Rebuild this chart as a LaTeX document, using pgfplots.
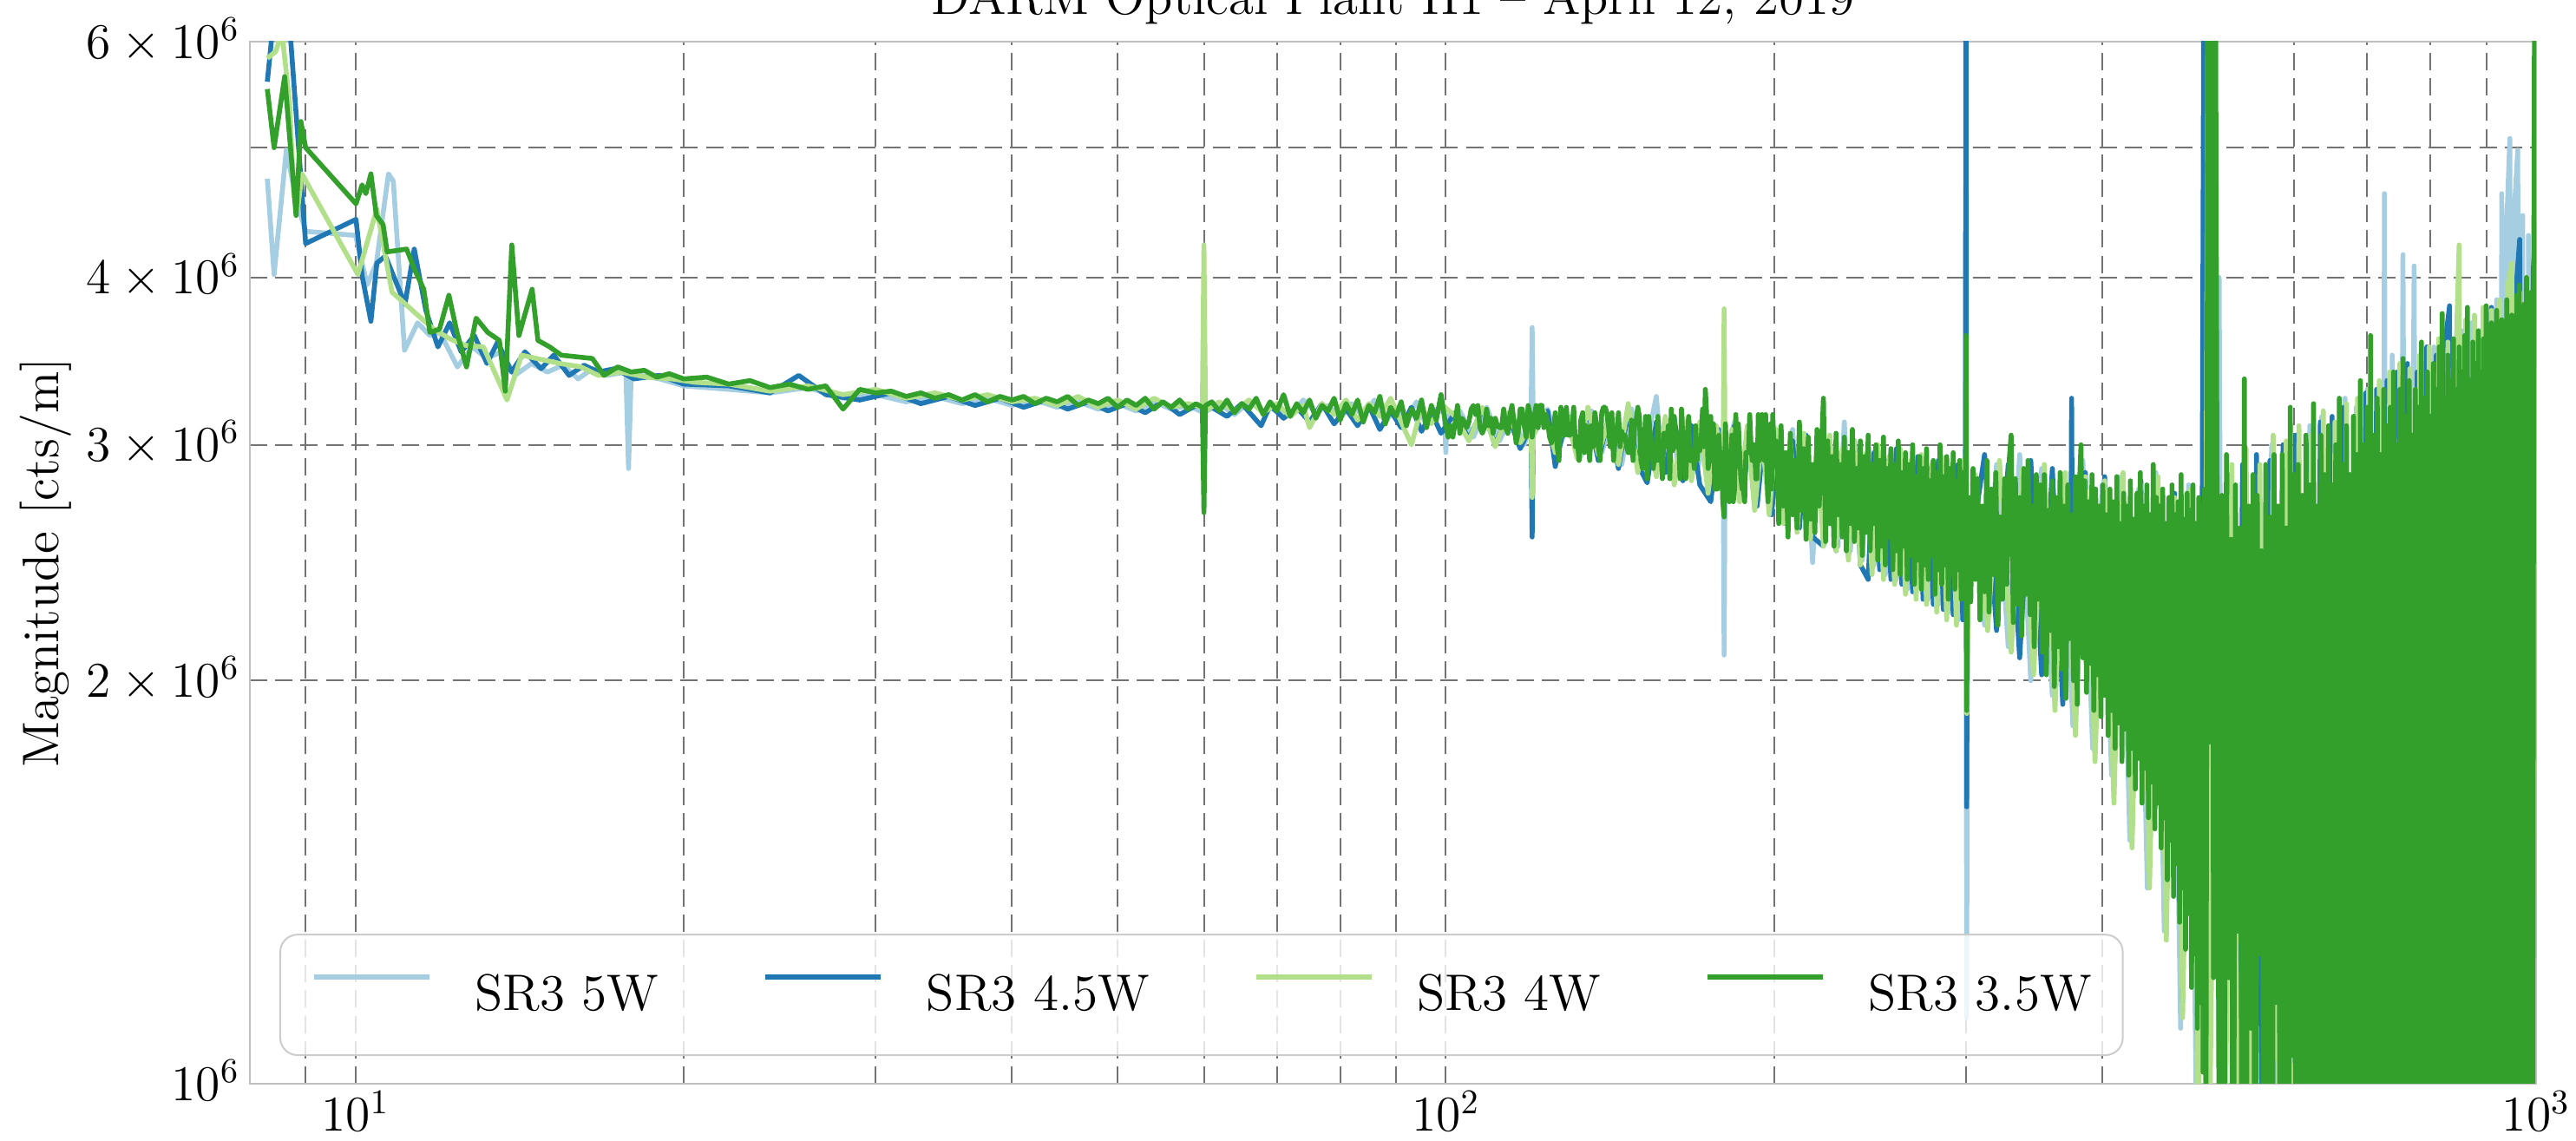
\documentclass[border=0pt]{standalone}
\usepackage{pgfplots}
\pgfplotsset{compat=1.18}
\definecolor{cfive}{HTML}{A6CEE3}
\definecolor{cfourfive}{HTML}{1F78B4}
\definecolor{cfour}{HTML}{B2DF8A}
\definecolor{cthreefive}{HTML}{33A02C}
\begin{document}
\begin{tikzpicture}[font=\fontsize{14.8}{17.8}\selectfont]
\begin{axis}[
  at={(0pt,0pt)}, anchor=south west,
  scale only axis, width=658.75pt, height=300.25pt,
  xmode=log, ymode=log,
  xmin=8, xmax=1000, ymin=1, ymax=6,
  xtick={10,100,1000}, xticklabels={$10^1$,$10^2$,$10^3$},
  minor xtick={9,20,30,40,50,60,70,80,90,200,300,400,500,600,700,800,900},
  ytick={1,2,3,4,5,6},
  yticklabels={$10^6$,$2\times10^6$,$3\times10^6$,$4\times10^6$,,$6\times10^6$},
  xmajorgrids, xminorgrids, ymajorgrids,
  major grid style={black!55, line width=0.5pt, dash pattern=on 5pt off 2.3pt},
  minor grid style={black!55, line width=0.5pt, dash pattern=on 5pt off 2.3pt},
  major tick length=0pt, minor tick length=0pt,
  axis line style={black!25, line width=0.6pt},
  xticklabel style={anchor=base, yshift=-13.75pt},
  yticklabel style={anchor=base east, yshift=-4.8pt, inner xsep=2.75pt},
  title={DARM Optical Plant H1 -- April 12, 2019},
  every axis title/.style={at={(0.5,1)}, anchor=base, yshift=7.75pt},
  ylabel={Magnitude [cts/m]},
  every axis y label/.style={at={(axis description cs:-0.0835,0.5)}, rotate=90, anchor=base},
  legend columns=4,
  legend cell align=left,
  legend image code/.code={\draw[#1] (0pt,5.2pt) -- (33.25pt,5.2pt);},
  legend style={
    at={(axis description cs:0.0129,0.0266)}, anchor=south west,
    draw=black!20, line width=0.5pt, rounded corners=5pt,
    fill=white, fill opacity=0.8, draw opacity=1, text opacity=1,
    inner xsep=9pt, inner ysep=11.4pt,
    nodes={inner sep=0pt},
    /tikz/every odd column/.append style={column sep=12.5pt},
    /tikz/every even column/.append style={column sep=30pt},
  },
  every axis plot/.append style={line width=1.4pt, line join=round, no markers},
]
% ---------------- SR3 5W ----------------
\addplot[cfive] table[row sep=\\] {
8.30 4.74\\ 8.42 4.02\\ 8.64 4.98\\ 8.82 4.58\\ 9.00 4.33\\ 10.00 4.30\\ 10.25 3.95\\ 10.45 4.10\\ 10.72 4.78\\ 10.83 4.72\\
11.09 3.53\\ 11.40 3.70\\ 11.70 3.62\\ 11.95 3.64\\ 12.40 3.43\\ 12.80 3.55\\ 13.20 3.48\\ 13.60 3.52\\ 14.00 3.38\\ 14.50 3.45\\
15.00 3.40\\ 15.50 3.44\\ 16.00 3.36\\ 16.50 3.42\\ 17.00 3.38\\ 17.70 3.40\\ 17.80 2.88\\ 17.90 3.39\\ 19.00 3.36\\ 20 3.32\\
22 3.30\\ 24 3.28\\ 26 3.31\\ 28 3.25\\ 30 3.27\\ 32 3.23\\ 34 3.26\\ 36 3.22\\ 38 3.25\\ 40 3.21\\
42 3.24\\ 44 3.20\\ 46 3.23\\ 48 3.19\\ 50 3.22\\ 52 3.18\\ 54 3.23\\ 56 3.19\\ 58 3.21\\ 60 3.17\\
62 3.22\\ 64 3.16\\ 66 3.23\\ 68 3.18\\ 70 3.20\\ 72 3.15\\ 74 3.24\\ 76 3.17\\ 78 3.21\\ 80 3.14\\
82 3.22\\ 84 3.15\\ 86 3.24\\ 88 3.12\\ 90 3.20\\ 92 3.14\\ 94 3.23\\ 96 3.10\\ 98 3.19\\ 99.7 3.17\\ 100 2.96\\ 100.3 3.15\\
103 3.18\\ 106 3.04\\ 109 3.20\\ 112 3.02\\ 115 3.16\\ 118 3.00\\ 119.7 3.12\\ 120 3.67\\ 120.3 3.05\\ 124 3.19\\
127 2.98\\ 130 3.15\\ 133 2.94\\ 136 3.18\\ 139 2.96\\ 142 3.14\\ 145 2.90\\ 148 3.19\\ 151 2.92\\ 154 3.10\\
156 3.26\\ 158 2.88\\ 161 3.12\\ 164 2.84\\ 167 3.14\\ 170 2.86\\ 173 3.08\\ 176 2.80\\ 179.6 3.06\\ 180 2.09\\
180.4 2.95\\ 184 3.12\\ 187 2.74\\ 190 3.06\\ 193 2.70\\ 196 3.10\\ 199 2.68\\ 202 3.05\\ 205 2.66\\ 208 3.08\\
211 2.60\\ 214 3.02\\ 217 2.45\\ 220 3.05\\ 223 2.58\\ 226 2.98\\ 229 2.52\\ 232 3.12\\ 235 2.50\\ 238 2.96\\
241 2.46\\ 244 3.00\\ 247 2.44\\ 250 2.92\\ 253 2.40\\ 256 2.98\\ 259 2.38\\ 262 2.90\\ 265 2.34\\ 268 2.94\\
271 2.36\\ 274 2.88\\ 277 2.30\\ 280 2.92\\ 283 2.28\\ 286 2.86\\ 289 2.25\\ 292 2.90\\ 295 2.22\\ 298 2.85\\
299.6 2.6\\ 300 5.55\\ 300.4 1.12\\ 301 2.4\\
304 2.70\\ 312 2.20\\ 320 2.90\\ 328 2.12\\ 336 2.95\\ 344 2.00\\ 352 2.88\\ 360 1.95\\ 368 2.85\\ 376 1.85\\
384 2.92\\ 392 1.78\\ 400 2.80\\ 408 1.70\\ 416 2.84\\ 424 1.52\\ 432 2.78\\ 440 1.40\\ 448 2.86\\ 456 1.30\\
464 2.75\\ 472 1.10\\ 480 2.80\\ 488 0.95\\ 496 2.70\\ 504 3.0\\ 512 4.00\\ 516 0.9\\ 524 2.75\\ 532 0.8\\
540 2.95\\ 548 0.7\\ 556 2.85\\ 564 0.8\\ 572 3.00\\ 580 0.7\\ 588 2.95\\ 596 0.6\\ 604 3.05\\ 612 0.7\\
620 3.10\\ 628 0.6\\ 636 3.15\\ 644 0.5\\ 652 3.10\\ 660 0.6\\ 668 3.25\\ 676 0.5\\ 684 3.20\\ 692 0.6\\
700 3.30\\ 708 0.5\\ 716 3.25\\ 722 0.5\\ 726 4.62\\ 730 0.6\\ 738 3.50\\ 746 0.5\\ 755 4.16\\ 762 0.6\\
773 4.08\\ 780 0.5\\ 790 3.45\\ 798 0.6\\ 806 3.55\\ 814 0.5\\ 823 3.50\\ 830 0.6\\ 840 3.60\\ 848 0.5\\
856 3.65\\ 864 0.5\\ 872 3.70\\ 880 0.6\\ 888 3.65\\ 896 0.5\\ 904 3.75\\ 912 0.6\\ 920 3.85\\ 926 0.5\\
930 4.62\\ 936 0.7\\ 940 4.40\\ 946 5.08\\ 950 0.8\\ 956 4.55\\ 962 4.98\\ 966 0.7\\ 972 4.45\\ 978 0.6\\
984 4.30\\ 990 0.7\\ 996 4.20\\ 1000 4.8\\
};
\addlegendentry{SR3 5W}
% ---------------- SR3 4.5W ----------------
\addplot[cfourfive] table[row sep=\\] {
8.30 5.60\\ 8.50 6.80\\ 8.66 6.50\\ 9.00 4.24\\ 10.01 4.42\\ 10.14 4.01\\ 10.33 3.71\\ 10.46 4.10\\ 10.65 4.15\\ 10.96 3.92\\
11.10 3.82\\ 11.32 4.20\\ 11.60 3.78\\ 11.90 3.55\\ 12.20 3.70\\ 12.50 3.52\\ 12.85 3.62\\ 13.20 3.45\\ 13.50 3.58\\ 13.90 3.40\\
14.30 3.52\\ 14.80 3.42\\ 15.20 3.50\\ 15.70 3.38\\ 16.20 3.44\\ 16.70 3.40\\ 17.30 3.42\\ 18.0 3.36\\ 19.0 3.38\\ 20 3.33\\
22 3.32\\ 24 3.28\\ 25.5 3.38\\ 27 3.27\\ 29 3.24\\ 31 3.28\\ 33 3.22\\ 35 3.26\\ 37 3.21\\ 39 3.25\\
41 3.20\\ 43 3.24\\ 45 3.19\\ 47 3.23\\ 49 3.18\\ 51 3.22\\ 53 3.17\\ 55 3.23\\ 57 3.16\\ 59 3.21\\
61 3.20\\ 63 3.15\\ 65 3.22\\ 67.7 3.10\\ 69 3.21\\ 71 3.14\\ 73 3.20\\ 75 3.12\\ 77 3.22\\ 79 3.11\\
81 3.19\\ 83 3.10\\ 85 3.21\\ 87 3.08\\ 89 3.18\\ 91 3.09\\ 93 3.20\\ 95 3.07\\ 97 3.17\\ 99 3.06\\
102 3.17\\ 105 3.03\\ 108 3.19\\ 111 3.00\\ 114 3.16\\ 117 2.98\\ 119.7 3.10\\ 120 2.56\\ 120.3 3.08\\ 124 3.18\\
126 2.89\\ 129 3.15\\ 132 2.95\\ 135 3.19\\ 138 2.92\\ 141 3.14\\ 144 2.88\\ 147 3.18\\ 150 2.90\\ 153 2.81\\
156 3.12\\ 159 2.86\\ 162 3.14\\ 165 2.82\\ 168 3.10\\ 171 2.80\\ 175 2.72\\ 178 3.08\\ 181 2.78\\ 184 3.10\\
187 2.74\\ 190 3.04\\ 193 2.70\\ 196 3.08\\ 199 2.66\\ 202 3.06\\ 205 2.62\\ 208 3.02\\ 211 2.60\\ 214 3.05\\
217 2.56\\ 222 2.52\\ 225 3.00\\ 228 2.50\\ 231 2.96\\ 234 2.48\\ 237 3.02\\ 240 2.44\\ 244 2.38\\ 247 2.96\\
250 2.42\\ 253 2.92\\ 256 2.38\\ 259 2.98\\ 262 2.36\\ 265 2.90\\ 268 2.33\\ 271 2.94\\ 274 2.30\\ 277 2.88\\
280 2.28\\ 283 2.92\\ 286 2.26\\ 289 2.86\\ 292 2.24\\ 295 2.90\\ 298 2.22\\ 299.6 2.7\\ 300 8.0\\ 300.4 1.61\\ 301 2.5\\
304 2.55\\ 312 2.95\\ 320 2.18\\ 328 2.90\\ 336 2.08\\ 344 2.92\\ 352 2.02\\ 360 2.88\\ 368 1.92\\ 374.6 2.7\\
375 3.25\\ 375.4 2.6\\ 378 1.90\\ 386 2.86\\ 394 1.80\\ 402 2.84\\ 410 1.68\\ 418 2.80\\ 426 1.55\\ 434 2.82\\
442 1.45\\ 450 2.78\\ 458 1.35\\ 466 2.76\\ 474 1.15\\ 482 2.74\\ 490 0.95\\ 494 2.6\\ 496 8.0\\ 498 1.0\\
506 2.8\\ 514 0.8\\ 522 2.85\\ 530 0.7\\ 538 2.90\\ 546 0.6\\ 554 2.95\\ 562 0.7\\ 570 2.92\\ 578 0.6\\
586 3.00\\ 594 0.5\\ 602 3.05\\ 610 0.7\\ 618 3.00\\ 626 0.6\\ 634 3.12\\ 642 0.5\\ 650 3.15\\ 658 0.6\\
666 3.20\\ 674 0.5\\ 682 3.15\\ 690 0.6\\ 698 3.28\\ 706 0.5\\ 714 3.30\\ 722 0.6\\ 730 3.35\\ 738 0.5\\
746 3.40\\ 754 0.6\\ 762 3.45\\ 770 0.5\\ 778 3.40\\ 786 0.6\\ 794 3.55\\ 802 0.5\\ 810 3.50\\ 818 0.6\\
826 3.60\\ 833 3.81\\ 838 0.5\\ 846 3.65\\ 854 0.6\\ 862 3.70\\ 870 0.5\\ 878 3.68\\ 886 0.6\\ 894 3.75\\
902 0.5\\ 910 3.80\\ 918 0.6\\ 926 3.82\\ 934 0.5\\ 942 3.85\\ 950 0.6\\ 958 3.90\\ 966 4.27\\ 972 0.6\\
980 3.95\\ 988 0.5\\ 994 4.05\\ 1000 4.40\\
};
\addlegendentry{SR3 4.5W}
% ---------------- SR3 4W ----------------
\addplot[cfour] table[row sep=\\] {
8.30 5.83\\ 8.45 5.90\\ 8.56 6.10\\ 8.70 5.40\\ 8.78 4.60\\ 8.85 4.50\\ 8.93 4.78\\ 10.05 4.02\\ 10.46 4.50\\ 10.80 3.90\\
11.00 3.85\\ 11.40 3.75\\ 11.80 3.66\\ 12.20 3.60\\ 12.60 3.56\\ 13.10 3.55\\ 13.77 3.24\\ 14.20 3.50\\ 14.90 3.47\\ 15.40 3.45\\
16.10 3.43\\ 16.70 3.38\\ 17.5 3.40\\ 18.5 3.37\\ 19.5 3.36\\ 20.5 3.34\\
22 3.33\\ 24 3.29\\ 26 3.32\\ 28 3.27\\ 30 3.30\\ 32 3.25\\ 34 3.28\\ 36 3.24\\ 38 3.27\\ 40 3.23\\
42 3.25\\ 44 3.21\\ 46 3.26\\ 48 3.20\\ 50 3.24\\ 52 3.19\\ 54 3.25\\ 56 3.20\\ 58 3.22\\ 59.8 3.20\\
60 4.23\\ 60.2 3.18\\ 62 3.23\\ 64 3.18\\ 66 3.24\\ 68 3.17\\ 70 3.22\\ 72 3.15\\ 74 3.21\\ 75 3.09\\
77 3.22\\ 79 3.16\\ 81 3.24\\ 83 3.13\\ 85 3.22\\ 87 3.15\\ 89 3.25\\ 91 3.12\\ 93 3.00\\ 95 3.20\\
97 3.11\\ 99 3.22\\
102 3.15\\ 105 3.02\\ 108 3.20\\ 111 2.99\\ 114 3.17\\ 117 3.01\\ 119.7 3.10\\ 120 2.74\\ 120.3 3.05\\ 123 3.18\\
126 2.96\\ 129 3.16\\ 132 2.93\\ 135 3.20\\ 138 2.95\\ 141 3.13\\ 144 2.90\\ 147 3.22\\ 150 2.86\\ 153 3.12\\
156 2.84\\ 159 3.15\\ 162 2.80\\ 165 3.14\\ 168 2.82\\ 171 3.12\\ 174 2.76\\ 177 3.10\\ 179.6 2.90\\ 180 3.79\\
180.4 2.85\\ 183 3.08\\ 186 2.72\\ 189 3.10\\ 192 2.68\\ 195 3.05\\ 198 2.66\\ 201 3.08\\ 204 2.62\\ 207 3.02\\
210 2.58\\ 213 3.06\\ 216 2.55\\ 219 3.00\\ 222 2.52\\ 225 3.05\\ 228 2.50\\ 231 2.98\\ 234 2.46\\ 237 3.02\\
240 2.44\\ 243 2.96\\ 246 2.40\\ 249 3.00\\ 252 2.38\\ 255 2.94\\ 258 2.36\\ 261 2.98\\ 264 2.32\\ 267 2.92\\
270 2.30\\ 273 2.95\\ 276 2.28\\ 279 2.90\\ 282 2.25\\ 285 2.94\\ 288 2.22\\ 291 2.88\\ 294 2.20\\ 297 2.92\\
299.5 2.5\\ 300 3.36\\ 300.5 1.89\\ 302 2.6\\
306 2.85\\ 314 2.18\\ 322 2.92\\ 330 2.10\\ 338 2.88\\ 346 2.02\\ 354 2.90\\ 362 1.90\\ 370 2.86\\ 378 1.82\\
386 2.84\\ 394 1.74\\ 402 2.82\\ 410 1.62\\ 418 2.86\\ 426 1.50\\ 434 2.80\\ 442 1.40\\ 450 2.84\\ 458 1.28\\
466 2.74\\ 474 1.12\\ 482 2.78\\ 490 0.92\\ 498 2.6\\ 500.5 8.0\\ 502.5 1.0\\ 510 2.82\\ 518 0.8\\ 526 2.90\\
534 0.7\\ 542 2.98\\ 550 0.6\\ 558 2.90\\ 566 0.7\\ 574 3.05\\ 582 0.6\\ 590 3.02\\ 598 0.5\\ 606 3.10\\
614 0.7\\ 622 3.05\\ 630 0.6\\ 638 3.18\\ 646 0.5\\ 654 3.12\\ 662 0.6\\ 670 3.22\\ 678 0.5\\ 686 3.25\\
694 0.6\\ 702 3.30\\ 710 0.5\\ 718 3.35\\ 726 0.6\\ 734 3.40\\ 742 0.5\\ 750 3.45\\ 758 0.6\\ 766 3.42\\
774 0.5\\ 782 3.50\\ 790 0.6\\ 798 3.55\\ 806 0.5\\ 814 3.60\\ 822 0.6\\ 830 3.58\\ 838 0.5\\ 846 3.70\\
850 4.23\\ 854 0.6\\ 862 3.72\\ 870 0.5\\ 878 3.75\\ 886 0.6\\ 894 3.80\\ 902 0.5\\ 910 3.78\\ 918 0.6\\
926 3.85\\ 934 0.5\\ 942 3.95\\ 950 4.10\\ 958 0.6\\ 966 3.90\\ 974 0.5\\ 982 4.00\\ 990 0.6\\ 998 4.05\\
1000 4.30\\
};
\addlegendentry{SR3 4W}
% ---------------- SR3 3.5W ----------------
\addplot[cthreefive] table[row sep=\\] {
8.30 5.53\\ 8.42 5.00\\ 8.61 5.65\\ 8.82 4.45\\ 8.91 5.23\\ 9.00 5.00\\ 10.01 4.54\\ 10.14 4.69\\ 10.22 4.62\\ 10.33 4.78\\
10.45 4.45\\ 10.60 4.38\\ 10.69 4.18\\ 11.14 4.20\\ 11.32 4.06\\ 11.55 3.92\\ 11.70 3.64\\ 11.94 3.66\\ 12.18 3.88\\ 12.39 3.64\\
12.64 3.43\\ 12.90 3.73\\ 13.22 3.64\\ 13.55 3.59\\ 13.72 3.29\\ 13.91 4.23\\ 14.12 3.62\\ 14.52 3.92\\ 14.70 3.59\\ 15.07 3.55\\
15.44 3.50\\ 15.96 3.49\\ 16.49 3.48\\ 16.90 3.38\\ 17.4 3.43\\ 17.9 3.40\\ 18.4 3.41\\ 18.9 3.37\\ 19.4 3.39\\ 20 3.36\\
21 3.37\\ 22 3.33\\ 23 3.35\\ 24 3.31\\ 25 3.33\\ 26 3.30\\ 27 3.32\\ 28 3.19\\ 29 3.30\\ 30 3.28\\
31 3.29\\ 32 3.26\\ 33 3.28\\ 34 3.25\\ 35 3.27\\ 36 3.24\\ 37 3.27\\ 38 3.23\\ 39 3.26\\ 40 3.24\\
41 3.26\\ 42 3.22\\ 43 3.25\\ 44 3.23\\ 45 3.26\\ 46 3.21\\ 47 3.24\\ 48 3.22\\ 49 3.25\\ 50 3.20\\
51 3.24\\ 52 3.21\\ 53 3.25\\ 54 3.19\\ 55 3.23\\ 56 3.20\\ 57 3.24\\ 58 3.19\\ 59 3.22\\ 59.8 3.20\\
60 2.67\\ 60.2 3.21\\ 61 3.23\\ 62 3.18\\ 63 3.24\\ 64 3.17\\ 65 3.22\\ 66 3.19\\ 67 3.25\\ 68 3.16\\
69 3.23\\ 70 3.18\\ 71 3.27\\ 72 3.15\\ 73 3.22\\ 74 3.17\\ 75 3.24\\ 76 3.14\\ 77 3.21\\ 78 3.18\\
79 3.25\\ 80 3.13\\ 81 3.22\\ 82 3.16\\ 83 3.24\\ 84 3.12\\ 85 3.21\\ 86 3.17\\ 87 3.26\\ 88 3.11\\
89 3.20\\ 90 3.15\\ 91 3.23\\ 92 3.10\\ 93 3.19\\ 94 3.14\\ 95 3.24\\ 96 3.09\\ 97 3.21\\ 98 3.13\\
99 3.27\\ 100 3.10\\
100.5 3.04\\ 101 3.10\\ 101.5 3.04\\ 102 3.12\\ 102.5 3.21\\ 103 3.06\\ 103.5 3.14\\ 104 3.12\\ 104.5 3.09\\ 105 3.12\\
105.5 3.19\\ 106 3.21\\ 106.5 3.16\\ 107 3.21\\ 107.5 3.09\\ 108 3.06\\ 108.5 3.09\\ 109 3.19\\ 109.5 3.10\\ 110 3.14\\
110.5 3.06\\ 111 3.14\\ 111.5 3.10\\ 112 3.09\\ 112.5 3.09\\ 113 3.19\\ 113.5 3.09\\ 114 3.06\\ 114.5 3.16\\ 115 3.21\\
115.5 3.12\\ 116 3.01\\ 116.5 3.06\\ 117 3.19\\ 117.5 3.19\\ 118 3.10\\ 118.5 3.04\\ 119 3.21\\ 119.5 3.16\\ 120 3.04\\
120.5 3.14\\ 121 3.21\\ 121.5 3.09\\ 122 3.21\\ 122.5 3.21\\ 123 3.09\\ 123.5 3.16\\ 124 3.12\\ 124.5 3.04\\ 125 3.01\\
125.5 3.07\\ 126 3.17\\ 126.5 2.99\\ 127 2.92\\ 127.5 3.20\\ 128 3.13\\ 128.5 3.05\\ 129 3.20\\ 129.5 3.05\\ 130 3.05\\
130.5 3.07\\ 131 3.20\\ 131.5 2.99\\ 132 3.03\\ 132.5 2.92\\ 133 3.13\\ 133.5 3.17\\ 134 2.96\\ 134.5 3.10\\ 135 3.05\\
135.5 2.92\\ 136 3.10\\ 136.5 2.99\\ 137 3.17\\ 137.5 3.10\\ 138 2.99\\ 138.5 2.92\\ 139 3.17\\ 139.5 3.20\\ 140 3.20\\
140.5 3.17\\ 141 3.10\\ 141.5 2.99\\ 142 3.17\\ 142.5 2.92\\ 143 3.03\\ 143.5 3.05\\ 144 3.17\\ 144.5 2.99\\ 145 3.07\\
145.5 3.03\\ 146 3.05\\ 146.5 2.99\\ 147 2.96\\ 147.5 2.96\\ 148 3.13\\ 148.5 2.92\\ 149 3.10\\ 149.5 3.13\\ 150 3.20\\
150.5 3.15\\ 151 2.92\\ 151.5 2.88\\ 152 2.99\\ 152.5 3.15\\ 153 2.83\\ 153.5 3.15\\ 154 3.06\\ 154.5 3.03\\ 155 2.88\\
155.5 2.97\\ 156 2.92\\ 156.5 3.15\\ 157 2.92\\ 157.5 2.97\\ 158 2.83\\ 158.5 3.06\\ 159 3.06\\ 159.5 2.99\\ 160 3.10\\
160.5 2.83\\ 161 3.19\\ 161.5 2.97\\ 162 3.15\\ 162.5 2.99\\ 163 2.99\\ 163.5 3.06\\ 164 2.83\\ 164.5 3.19\\ 165 3.03\\
165.5 3.03\\ 166 2.83\\ 166.5 3.03\\ 167 3.15\\ 167.5 2.92\\ 168 2.92\\ 168.5 2.97\\ 169 2.88\\ 169.5 3.10\\ 170 2.92\\
170.5 3.03\\ 171 2.97\\ 171.5 3.03\\ 172 3.19\\ 172.5 2.99\\ 173 3.30\\ 173.5 3.15\\ 174 2.88\\ 174.5 2.92\\ 175 3.15\\
175.5 2.92\\ 176 3.11\\ 176.5 2.78\\ 177 2.78\\ 177.5 2.78\\ 178 3.05\\ 178.5 2.92\\ 179 2.96\\ 179.5 2.72\\ 180 2.65\\
180.5 3.11\\ 181 2.92\\ 181.5 2.78\\ 182 2.72\\ 182.5 2.83\\ 183 3.05\\ 183.5 2.72\\ 184 2.78\\ 184.5 3.16\\ 185 2.89\\
185.5 3.11\\ 186 2.96\\ 186.5 2.83\\ 187 2.78\\ 187.5 2.78\\ 188 2.72\\ 188.5 2.96\\ 189 2.96\\ 189.5 2.96\\ 190 3.16\\
190.5 3.00\\ 191 2.92\\ 191.5 2.92\\ 192 3.00\\ 192.5 2.83\\ 193 2.83\\ 193.5 3.16\\ 194 2.92\\ 194.5 3.11\\ 195 3.16\\
195.5 2.96\\ 196 2.92\\ 196.5 3.16\\ 197 2.89\\ 197.5 2.72\\ 198 2.89\\ 198.5 3.11\\ 199 2.78\\ 199.5 3.16\\ 200 3.00\\
201 3.02\\ 202 2.62\\ 203 3.10\\ 204 2.70\\ 205 2.96\\ 206 2.56\\ 207 3.06\\ 208 2.66\\ 209 2.92\\ 210 2.60\\
211 3.12\\ 212 2.68\\ 213 2.98\\ 214 2.55\\ 215 3.04\\ 216 2.64\\ 217 2.90\\ 218 2.58\\ 219 3.08\\ 220 2.70\\
221 2.95\\ 222 3.25\\ 223 2.54\\ 224 3.02\\ 225 2.62\\ 226 2.94\\ 227 2.52\\ 228 3.06\\ 229 2.66\\ 230 2.90\\
231 2.56\\ 232 3.04\\ 233 2.50\\ 234 2.96\\ 235 2.62\\ 236 3.08\\ 237 2.54\\ 238 2.88\\ 239 2.60\\ 240 3.02\\
241 2.48\\ 242 2.94\\ 243 2.58\\ 244 3.05\\ 245 2.50\\ 246 2.90\\ 247 2.62\\ 248 3.00\\ 249 2.46\\ 250 2.92\\
251 2.52\\ 252 3.04\\ 253 2.44\\ 254 2.88\\ 255 2.56\\ 256 2.98\\ 257 2.42\\ 258 2.90\\ 259 2.50\\ 260 3.02\\
261 2.40\\ 262 2.86\\ 263 2.52\\ 264 2.96\\ 265 2.38\\ 266 2.90\\ 267 2.48\\ 268 3.00\\ 269 2.36\\ 270 2.84\\
271 2.46\\ 272 2.94\\ 273 2.34\\ 274 2.88\\ 275 2.44\\ 276 2.98\\ 277 2.38\\ 278 2.82\\ 279 2.48\\ 280 2.92\\
281 2.32\\ 282 2.86\\ 283 2.42\\ 284 3.00\\ 285 2.36\\ 286 2.84\\ 287 2.44\\ 288 2.94\\ 289 2.30\\ 290 2.88\\
291 2.40\\ 292 2.96\\ 293 2.34\\ 294 2.82\\ 295 2.42\\ 296 2.92\\ 297 2.30\\ 298 2.86\\ 299 2.40\\ 299.6 2.5\\
300 3.62\\ 300.4 1.9\\
301.5 2.74\\ 303 2.29\\ 304.5 2.88\\ 306 2.38\\ 307.5 2.83\\ 309 2.22\\ 310.5 2.70\\ 312 2.33\\ 313.5 2.92\\ 315 2.25\\
316.5 2.78\\ 318 2.40\\ 319.5 2.86\\ 321 2.20\\ 322.5 2.65\\ 324 2.30\\ 325.5 2.83\\ 327 2.36\\ 328.5 2.90\\ 330 3.05\\
331.5 2.21\\ 333 2.83\\ 334.5 2.28\\ 336 2.74\\ 337.5 2.16\\ 339 2.88\\ 340.5 2.32\\ 342 2.92\\ 343.5 2.24\\ 345 2.70\\
346.5 2.12\\ 348 2.85\\ 349.5 2.30\\
351 2.80\\ 352.5 2.10\\ 354 2.85\\ 355.5 2.02\\ 357 2.68\\ 358.5 2.18\\ 360 2.82\\ 361.5 1.98\\ 363 2.74\\ 364.5 2.12\\
366 2.86\\ 367.5 2.04\\ 369 2.70\\ 370.5 1.94\\ 372 2.80\\ 373.5 2.15\\ 375 2.66\\ 376.5 2.00\\ 378 2.84\\ 379.5 1.92\\
381 2.76\\ 382.5 3.00\\ 384 2.08\\ 385.5 2.82\\ 387 1.96\\ 388.5 2.72\\ 390 2.06\\ 391.5 2.85\\ 393 1.90\\ 394.5 2.78\\
396 2.02\\ 397.5 2.70\\ 399 1.88\\
400.5 2.80\\ 402 1.95\\ 403.5 2.66\\ 405 1.82\\ 406.5 2.78\\ 408 1.90\\ 409.5 2.72\\ 411 1.78\\ 412.5 2.84\\ 414 1.86\\
415.5 2.62\\ 417 1.74\\ 418.5 2.76\\ 420 1.84\\ 421.5 2.70\\ 423 1.70\\ 424.5 2.82\\ 426 1.78\\ 427.5 2.64\\ 429 1.66\\
430.5 2.76\\ 432 1.75\\ 433.5 2.86\\ 435 1.62\\ 436.5 2.70\\ 438 1.72\\ 439.5 2.80\\ 441 1.58\\ 442.5 2.66\\ 444 1.68\\
445.5 2.90\\ 447 1.55\\ 448.5 2.74\\ 450 1.62\\
451.5 2.70\\ 453 1.50\\ 454.5 2.78\\ 456 1.58\\ 457.5 2.62\\ 459 1.42\\ 460.5 2.74\\ 462 1.52\\ 463.5 2.80\\ 465 1.38\\
466.5 2.66\\ 468 1.46\\ 469.5 2.72\\ 471 1.32\\ 472.5 2.85\\ 474 1.40\\ 475.5 2.64\\ 477 1.26\\ 478.5 2.76\\ 480 1.34\\
481.5 2.68\\ 483 1.18\\ 484.5 2.80\\ 486 1.25\\ 487.5 2.62\\ 489 1.10\\ 490.5 2.74\\ 492 1.15\\ 493.5 2.70\\ 495 1.02\\
496.5 2.78\\ 498 0.95\\ 499 2.62\\ 500 7.5\\ 502 1.8\\ 504 8.0\\ 506 1.2\\ 508 7.0\\ 510 2.4\\ 512 0.85\\
515 2.75\\ 517.5 0.8\\ 520 2.95\\ 522.5 1.2\\ 525 2.55\\ 527.5 0.6\\ 530 2.80\\ 532.5 1.3\\ 535 2.60\\ 537.5 0.7\\
540 3.36\\ 542.5 0.9\\ 545 2.70\\ 547.5 1.1\\ 550 2.85\\ 552.5 0.5\\ 555 2.75\\ 557.5 1.25\\ 560 2.50\\ 562.5 0.8\\
565 2.90\\ 567.5 1.0\\ 570 2.65\\ 572.5 0.6\\ 575 2.95\\ 577.5 1.15\\ 580 2.70\\ 582.5 0.7\\ 585 2.95\\ 587.5 0.9\\
590 2.60\\ 592.5 0.5\\ 595 3.20\\ 597.5 1.05\\ 600 2.85\\ 602.5 0.6\\
605 2.90\\ 607.5 0.8\\ 610 2.75\\ 612.5 0.5\\ 615 3.05\\ 617.5 0.9\\ 620 2.80\\ 622.5 0.4\\ 625 3.22\\ 627.5 0.7\\
630 2.70\\ 632.5 0.5\\ 635 3.05\\ 637.5 0.8\\ 640 2.85\\ 642.5 0.45\\ 645 3.10\\ 647.5 0.7\\ 650 2.80\\ 652.5 0.5\\
655 3.00\\ 657.5 0.9\\ 660 3.25\\ 662.5 0.4\\ 665 2.90\\ 667.5 0.7\\ 670 3.10\\ 672.5 0.5\\ 675 2.85\\ 677.5 0.8\\
680 3.15\\ 682.5 0.45\\ 685 2.95\\ 687.5 0.6\\ 690 3.35\\ 692.5 0.5\\ 695 3.00\\ 697.5 0.7\\
700 3.20\\ 702.5 0.5\\ 705 3.62\\ 707.5 0.7\\ 710 3.05\\ 712.5 0.4\\ 715 3.25\\ 717.5 0.8\\ 720 2.95\\ 722.5 0.5\\
725 3.30\\ 727.5 0.6\\ 730 3.10\\ 732.5 0.4\\ 735 3.20\\ 737.5 0.7\\ 740 3.40\\ 742.5 0.5\\ 745 3.00\\ 747.5 0.8\\
750 3.30\\ 752.5 0.45\\ 755 3.48\\ 757.5 0.6\\ 760 3.15\\ 762.5 0.4\\ 765 3.35\\ 767.5 0.7\\ 770 3.05\\ 772.5 0.5\\
775 3.30\\ 777.5 0.6\\ 780 3.20\\ 782.5 0.4\\ 785 3.58\\ 787.5 0.7\\ 790 3.25\\ 792.5 0.5\\ 795 3.40\\ 797.5 0.6\\
800 3.15\\ 802.5 0.45\\ 805 3.45\\ 807.5 0.7\\ 810 3.30\\ 812.5 0.4\\ 815 3.55\\ 817.5 0.6\\ 820 3.76\\ 822.5 0.5\\
825 3.25\\ 827.5 0.7\\ 830 3.50\\ 832.5 0.4\\ 835 3.35\\ 837.5 0.6\\ 840 3.60\\ 842.5 0.45\\ 845 3.30\\ 847.5 0.7\\
850 3.55\\ 852.5 0.5\\ 855 3.40\\ 857.5 0.4\\ 860 3.62\\ 862.5 0.6\\ 865 3.80\\ 867.5 0.5\\ 870 3.35\\ 872.5 0.7\\
875 3.58\\ 877.5 0.4\\ 880 3.45\\ 882.5 0.6\\ 885 3.65\\ 887.5 0.5\\ 890 3.40\\ 892.5 0.7\\ 895 3.60\\ 897.5 0.45\\
900 3.81\\ 902.5 0.6\\ 905 3.50\\ 907.5 0.4\\ 910 3.70\\ 912.5 0.7\\ 915 3.55\\ 917.5 0.5\\ 920 3.78\\ 922.5 0.6\\
925 3.45\\ 927.5 0.4\\ 930 3.72\\ 932.5 0.7\\ 935 3.60\\ 937.5 0.5\\ 940 3.85\\ 942.5 0.6\\ 945 3.50\\ 947.5 0.4\\
950 3.75\\ 952.5 0.7\\ 955 3.62\\ 957.5 0.5\\ 960 3.88\\ 962.5 0.6\\ 965 3.95\\ 967.5 0.4\\ 970 3.70\\ 972.5 0.7\\
975 3.82\\ 977.5 0.5\\ 980 4.00\\ 982.5 0.6\\ 985 3.75\\ 987.5 0.4\\ 990 3.90\\ 992.5 0.6\\ 995 3.85\\ 997 7.0\\
1000 4.2\\
};
\addlegendentry{SR3 3.5W}
\end{axis}
\pgfresetboundingbox
\path[use as bounding box] (-72pt,-16.5pt) rectangle (670.25pt,312.25pt);
\end{tikzpicture}
\end{document}
